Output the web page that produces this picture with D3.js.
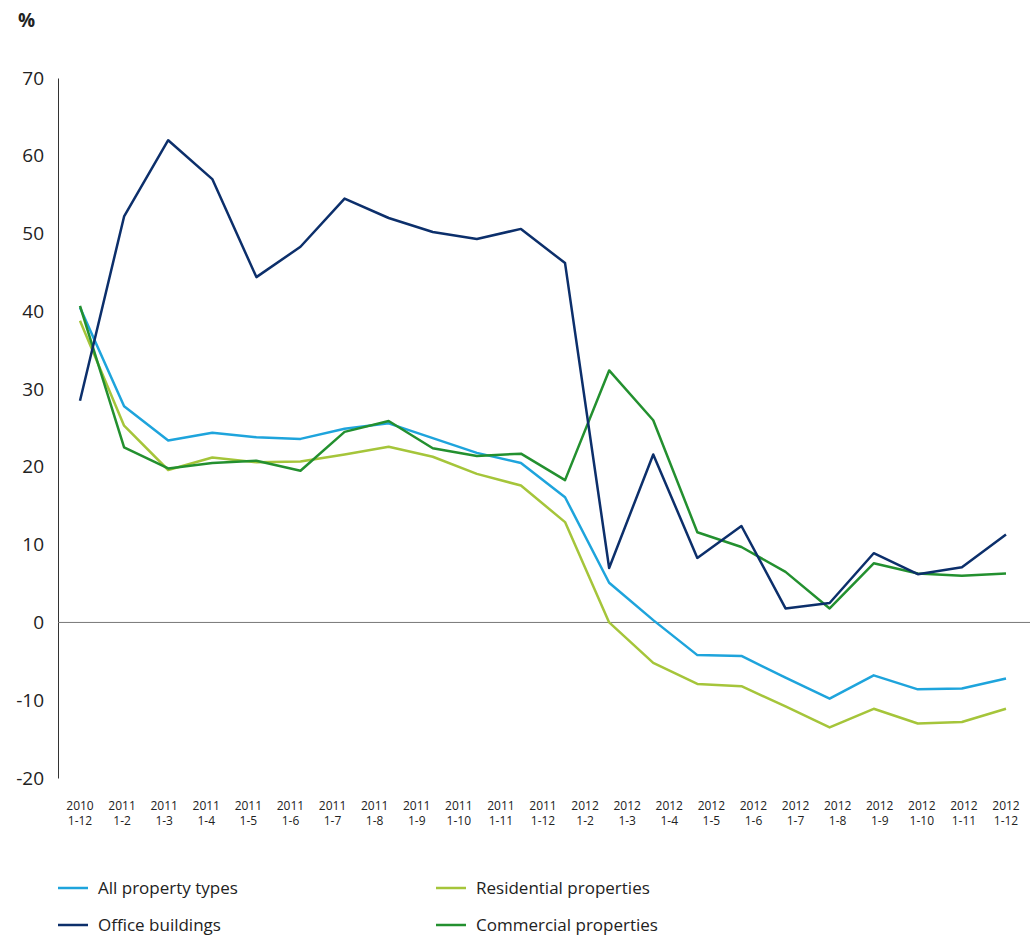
<!DOCTYPE html>
<html><head><meta charset="utf-8">
<script src="https://cdn.jsdelivr.net/npm/d3@7"></script>
<style>body{margin:0;background:#fff;font-family:"Open Sans","Noto Sans",sans-serif;}</style>
</head><body>
<script>
// tick labels along the x axis (two lines each)
var labelsTop = ["2010","2011","2011","2011","2011","2011","2011","2011","2011","2011","2011","2011","2012","2012","2012","2012","2012","2012","2012","2012","2012","2012","2012"];
var labelsBot = ["1-12","1-2","1-3","1-4","1-5","1-6","1-7","1-8","1-9","1-10","1-11","1-12","1-2","1-3","1-4","1-5","1-6","1-7","1-8","1-9","1-10","1-11","1-12"];

var allTypes    = [40.5,27.8,23.4,24.4,23.8,23.6,24.9,25.6,23.7,21.8,20.5,16.1,5.1,0.3,-4.2,-4.3,-7.1,-9.8,-6.8,-8.6,-8.5,-7.2];
var residential = [38.8,25.3,19.6,21.2,20.6,20.7,21.6,22.6,21.3,19.1,17.6,12.9,0,-5.2,-7.9,-8.2,-10.8,-13.5,-11.1,-13,-12.8,-11.1];
var office      = [28.5,52.2,62,57,44.4,48.3,54.5,52,50.2,49.3,50.6,46.2,7,21.6,8.3,12.4,1.8,2.5,8.9,6.2,7.1,11.3];
var commercial  = [40.7,22.5,19.8,20.5,20.8,19.5,24.5,25.9,22.4,21.4,21.7,18.3,32.4,26,11.6,9.7,6.5,1.8,7.6,6.3,6,6.3];

var series = [
  {name:"All property types", values:allTypes, color:"#1ea4dc"},
  {name:"Residential properties", values:residential, color:"#a5c53a"},
  {name:"Office buildings", values:office, color:"#0c2f6b"},
  {name:"Commercial properties", values:commercial, color:"#23902f"}
];

var svg = d3.select("body").append("svg").attr("width",1035).attr("height",937);

var y = d3.scaleLinear().domain([-20,70]).range([778,78]);
// points and labels use slightly different spacing, as in the source
var xp = d3.scaleLinear().domain([0,allTypes.length-1]).range([80,1006]);
var xl = d3.scaleLinear().domain([0,labelsTop.length-1]).range([80,1006]);

svg.append("text").attr("x",18).attr("y",27).text("%")
  .attr("font-size",19).attr("font-weight","bold").attr("fill","#222");

// y axis
var yAxis = svg.append("g").attr("transform","translate(58,0)")
  .call(d3.axisLeft(y).tickValues(d3.range(-20,71,10)).tickSize(0).tickPadding(14)
    .tickFormat(function(d){return String(d);}));
yAxis.select(".domain").attr("stroke","#333");
yAxis.selectAll("text").attr("font-size",19).attr("fill","#222").attr("font-family","Open Sans, sans-serif");

svg.append("line").attr("x1",58).attr("x2",1030).attr("y1",y(0)).attr("y2",y(0))
  .attr("stroke","#777").attr("stroke-width",1);

// x labels
var xg = svg.append("g");
labelsTop.forEach(function(t,i){
  var tx = xg.append("text").attr("x",xl(i)).attr("y",810).attr("text-anchor","middle")
    .attr("font-size",12).attr("fill","#222");
  tx.append("tspan").attr("x",xl(i)).text(t);
  tx.append("tspan").attr("x",xl(i)).attr("dy",15).text(labelsBot[i]);
});

var line = d3.line().x(function(d,i){return xp(i);}).y(function(d){return y(d);});
[0,1,3,2].forEach(function(k){
  var s = series[k];
  svg.append("path").datum(s.values).attr("d",line).attr("fill","none")
    .attr("stroke",s.color).attr("stroke-width",2.5).attr("stroke-linejoin","round");
});

// legend
var legPos = [[58,888],[436,888],[58,925],[436,925]];
series.forEach(function(s,i){
  var p = legPos[i];
  svg.append("line").attr("x1",p[0]).attr("x2",p[0]+30).attr("y1",p[1]).attr("y2",p[1])
    .attr("stroke",s.color).attr("stroke-width",2.5);
  svg.append("text").attr("x",p[0]+40).attr("y",p[1]+6).text(s.name)
    .attr("font-size",17).attr("fill","#222");
});
</script>
</body></html>
